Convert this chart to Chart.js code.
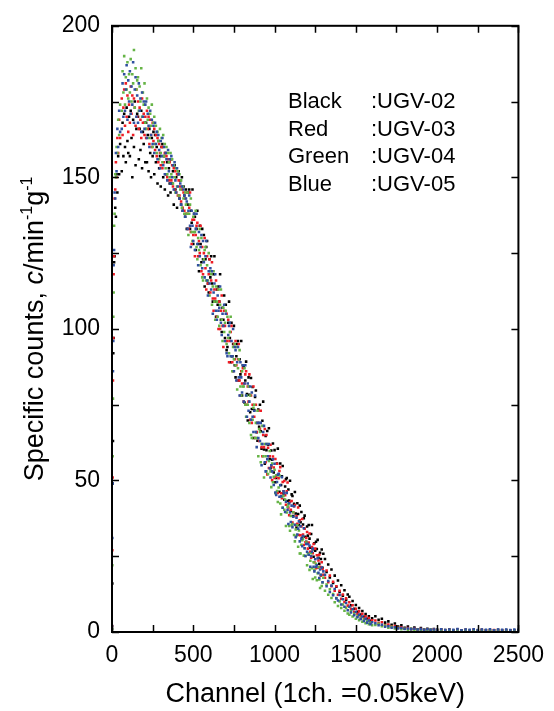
<!DOCTYPE html>
<html>
<head>
<meta charset="utf-8">
<script src="https://cdn.jsdelivr.net/npm/chart.js@4.4.1/dist/chart.umd.min.js"></script>
<style>
  html, body { margin: 0; padding: 0; background: #fff; }
  #wrap { width: 554px; height: 711px; }
</style>
</head>
<body>
<div id="wrap"><canvas id="chart" width="554" height="711"></canvas></div>
<script>
// channel numbers (x), shared by all four spectra
const channels = [
  0, 2, 4, 6, 8, 10, 13, 16, 20, 24, 28, 33, 38, 44, 50,
  60, 65, 70, 75, 80, 85, 90, 95, 100, 105,
  110, 115, 120, 125, 130, 135, 140, 145, 150, 155,
  160, 165, 170, 175, 180, 185, 190, 195, 200, 205,
  210, 215, 220, 225, 230, 235, 240, 245, 250, 255,
  260, 265, 270, 275, 280, 285, 290, 295, 300, 305,
  310, 315, 320, 325, 330, 335, 340, 345, 350, 355,
  360, 365, 370, 375, 380, 385, 390, 395, 400, 405,
  410, 415, 420, 425, 430, 435, 440, 445, 450, 455,
  460, 465, 470, 475, 480, 485, 490, 495, 500, 505,
  510, 515, 520, 525, 530, 535, 540, 545, 550, 555,
  560, 565, 570, 575, 580, 585, 590, 595, 600, 605,
  610, 615, 620, 625, 630, 635, 640, 645, 650, 655,
  660, 665, 670, 675, 680, 685, 690, 695, 700, 705,
  710, 715, 720, 725, 730, 735, 740, 745, 750, 755,
  760, 765, 770, 775, 780, 785, 790, 795, 800, 805,
  810, 815, 820, 825, 830, 835, 840, 845, 850, 855,
  860, 865, 870, 875, 880, 885, 890, 895, 900, 905,
  910, 915, 920, 925, 930, 935, 940, 945, 950, 955,
  960, 965, 970, 975, 980, 985, 990, 995, 1000, 1005,
  1010, 1015, 1020, 1025, 1030, 1035, 1040, 1045, 1050, 1055,
  1060, 1065, 1070, 1075, 1080, 1085, 1090, 1095, 1100, 1105,
  1110, 1115, 1120, 1125, 1130, 1135, 1140, 1145, 1150, 1155,
  1160, 1165, 1170, 1175, 1180, 1185, 1190, 1195, 1200, 1205,
  1210, 1215, 1220, 1225, 1230, 1235, 1240, 1245, 1250, 1255,
  1260, 1265, 1270, 1275, 1280, 1285, 1290, 1295, 1300,
  1310, 1320, 1330, 1340, 1350,
  1360, 1370, 1380, 1390, 1400, 1410, 1420, 1430, 1440, 1450,
  1460, 1470, 1480, 1490, 1500, 1510, 1520, 1530, 1540, 1550,
  1560, 1570, 1580, 1590, 1600,
  1620, 1640, 1660, 1680, 1700, 1720, 1740, 1760, 1780, 1800,
  1820, 1840, 1860, 1880, 1900, 1920, 1940, 1960, 1980, 2000,
  2025, 2050, 2075, 2100, 2125, 2150, 2175, 2200, 2225, 2250,
  2275, 2300, 2325, 2350, 2375, 2400, 2425, 2450, 2475, 2500
];

// specific counts, c/min^-1 g^-1
const ugv02 = [ // black
  1, 16, 49, 63, 92, 97, 122, 124, 140, 137, 151, 145, 157, 151, 161,
  152, 168, 157, 171, 160, 155, 173, 162, 158, 170,
  157, 172, 163, 150, 169, 160, 175, 154, 166, 171,
  170, 156, 166, 159, 172, 153, 165, 161, 168, 155,
  168, 155, 164, 152, 166, 158, 150, 163, 157, 165,
  151, 164, 155, 160, 148, 162, 153, 157, 147, 160,
  161, 150, 157, 146, 158, 151, 155, 144, 153, 148,
  145, 156, 148, 152, 141, 154, 146, 150, 140, 151,
  152, 143, 149, 141, 150, 139, 147, 144, 137, 146,
  133, 141, 145, 146, 133, 139, 135, 146, 128, 138,
  137, 126, 133, 139, 128, 119, 134, 128, 122, 133,
  123, 131, 114, 123, 127, 129, 115, 112, 123, 117,
  124, 115, 109, 118, 124, 109, 104, 113, 108, 114,
  109, 118, 103, 99, 107, 103, 111, 97, 108, 93,
  94, 102, 109, 97, 89, 102, 91, 95, 101, 88,
  84, 91, 95, 96, 83, 90, 85, 96, 78, 88,
  87.5, 75.7, 83, 89.2, 78.5, 69.8, 84, 78.3, 72.5, 83.8,
  73.6, 80.8, 64, 73.2, 77.5, 79.7, 65.9, 63.1, 73.4, 67.7,
  75, 66.2, 60.5, 69.7, 76, 60.2, 55.5, 64.7, 60, 66.3,
  61.8, 67.2, 57.1, 54, 59.9, 56.8, 62.2, 52.6, 60, 49.4,
  50.8, 55.6, 60.5, 51.9, 46.3, 55.6, 48.5, 51.4, 54.8, 45.7,
  43.6, 48, 50.4, 50.8, 43.2, 47, 43.4, 49.9, 39.9, 45.4,
  44.9, 38.3, 42.3, 46.2, 39.1, 34.5, 42.5, 38.9, 35.3, 41.7,
  36.2, 39.6, 31.1, 35.5, 37.5, 38.4, 31.4, 29.8, 34.8, 31.8,
  35.3, 30.8, 27.8, 32.3, 35.3, 27.3, 24.8, 29.3, 26.8, 29.8,
  27.4, 30.4, 24.5, 22.5, 26.1, 24.1, 27.2, 21.2, 25.8,
  24.1, 19.8, 22.3, 18, 20.6,
  16.2, 18.6, 14.9, 17, 13.2, 15.4, 12, 13.8, 10.6, 12.4,
  11.6, 8.8, 10.2, 7.7, 8.9, 6.7, 7.9, 5.8, 6.9, 5,
  5.9, 4.4, 5.2, 3.7, 4.5,
  5.2, 4.0, 4.4, 3.1, 3.5, 2.4, 2.8, 1.8, 2.2, 1.4,
  1.8, 1.1, 1.5, 0.9, 1.3, 0.8, 1.1, 0.7, 1.0, 0.7,
  0.9, 0.65, 0.85, 0.6, 0.8, 0.55, 0.75, 0.6, 0.7, 0.5,
  0.75, 0.55, 0.65, 0.6, 0.7, 0.5, 0.65, 0.55, 0.6, 0.5
];
const ugv03 = [ // red
  2, 27, 51, 83, 97, 118, 124, 143, 146, 155, 150, 163, 158, 169, 163,
  176, 164, 173, 179, 167, 181, 170, 177, 165, 174,
  168, 180, 171, 177, 164, 176, 173, 167, 179, 170,
  175, 166, 173, 169, 163, 176, 168, 171, 164, 170,
  163, 172, 166, 170, 161, 169, 164, 160, 168, 162,
  166, 159, 164, 157, 163, 155, 161, 158, 154, 160,
  153, 160, 155, 158, 151, 157, 150, 156, 149, 155,
  156, 149, 154, 147, 153, 146, 152, 145, 151, 144,
  149, 144, 147, 142, 146, 140, 145, 139, 143, 138,
  145, 138, 133, 140, 145, 132, 128, 136, 131, 136,
  124, 131, 134, 135, 124, 129, 125, 134, 119, 127,
  118, 125, 130, 120, 113, 124, 115, 118, 123, 112,
  116, 122, 110, 106, 113, 110, 116, 104, 113, 100,
  109, 100, 106, 111, 101, 94, 106, 101, 96, 105,
  96, 103, 89, 96, 99, 101, 89, 86, 95, 90,
  96, 88, 83, 90, 95, 83, 78, 86, 82, 87,
  76, 82, 85, 86, 75, 81, 76, 85, 70, 78,
  69, 75, 81, 71, 64, 75, 66, 69, 73, 63,
  67, 73, 61, 58, 65, 61, 67, 56, 65, 52,
  60.8, 54.1, 58, 61.8, 54.7, 50.1, 57.9, 54.3, 50.8, 57.1,
  51.2, 55.5, 45.9, 50.7, 53.1, 54.4, 45.8, 44.1, 49.5, 46.4,
  49.8, 45.1, 42, 46.4, 49.3, 41.1, 38.5, 42.9, 40.3, 43.2,
  36.1, 39.5, 41.5, 41.9, 35.3, 38.2, 35.7, 41.1, 32, 36.9,
  31.9, 34.8, 37.3, 32.2, 28.7, 34.1, 29.6, 31, 33, 27.5,
  29.5, 32.5, 26.5, 24.5, 28, 26, 29, 23, 27.5, 21,
  25.3, 21.2, 23.6, 25.5, 21.5, 18.6, 23, 20.9, 18.9,
  17.9, 20.3, 16.4, 18.6, 15.1,
  16.6, 13.6, 15.1, 12.3, 13.6, 11, 12.4, 9.9, 11.1, 8.7,
  9.8, 7.7, 8.8, 6.7, 7.7, 6, 6.8, 5.2, 6, 4.5,
  5.2, 3.8, 4.6, 3.3, 3.9,
  3.8, 3.0, 3.2, 2.3, 2.5, 1.8, 2.0, 1.4, 1.6, 1.1,
  1.3, 0.9, 1.1, 0.75, 0.95, 0.7, 0.85, 0.6, 0.8, 0.6,
  0.75, 0.6, 0.7, 0.5, 0.75, 0.6, 0.65, 0.55, 0.7, 0.5,
  0.65, 0.6, 0.55, 0.65, 0.5, 0.6, 0.55, 0.6, 0.5, 0.55
];
const ugv04 = [ // green
  1, 22, 58, 77, 104, 112, 134, 138, 151, 150, 160, 158, 169, 164, 174,
  172, 185, 178, 190, 174, 183, 179, 188, 176, 184,
  178, 189, 175, 184, 181, 192, 173, 186, 179, 182,
  183, 172, 180, 175, 186, 170, 178, 174, 181, 168,
  166, 176, 169, 173, 163, 171, 167, 174, 160, 168,
  170, 161, 167, 158, 165, 162, 156, 166, 158, 163,
  155, 164, 157, 161, 153, 160, 151, 158, 155, 150,
  158, 151, 156, 148, 154, 150, 145, 153, 147, 152,
  144, 151, 146, 149, 140, 147, 143, 138, 145, 141,
  138, 145, 131, 138, 141, 143, 132, 129, 137, 132,
  132, 139, 127, 123, 130, 126, 133, 121, 130, 117,
  116, 123, 126, 127, 116, 121, 116, 125, 111, 119,
  118, 108, 114, 119, 109, 103, 114, 109, 104, 113,
  101, 108, 113, 103, 96, 107, 99, 102, 106, 95,
  104, 97, 92, 99, 104, 91, 86, 94, 90, 95,
  88, 94, 80, 87, 90, 93, 81, 78, 86, 81,
  81, 87, 75, 71, 78, 75, 81, 69, 78, 65,
  64, 70, 74, 75, 64, 69, 64, 73, 58, 67,
  66, 56, 62, 68, 58, 51, 62, 58, 53, 62,
  52.1, 56.4, 59.7, 53, 47.8, 55.6, 49.4, 51.2, 53.5, 45.8,
  51.7, 46.5, 42.9, 47.7, 51.6, 42.4, 38.8, 44.6, 41, 44.9,
  40.3, 43.6, 35, 39.4, 41.3, 42.1, 35, 33.4, 38.3, 35.2,
  35.6, 39.5, 32, 29.9, 33.8, 31.7, 35.2, 28.1, 33.5, 25.9,
  25.9, 28.8, 30.3, 30.7, 25.2, 27.6, 25.1, 29.5, 22, 26,
  25.5, 20.5, 23.5, 26, 21, 17.5, 23, 20.5, 18, 22.5,
  17.1, 19.4, 21.4, 17.3, 14.5, 18.8, 15.2, 16.3, 17.9,
  13.6, 15.7, 12.3, 14.1, 11.2,
  12.5, 9.8, 11.2, 8.6, 10.1, 7.9, 9.1, 7, 8, 6.1,
  5.7, 6.8, 5.1, 6, 4.4, 5.3, 3.9, 4.7, 3.4, 4.1,
  2.9, 3.6, 2.6, 3.1, 2.2,
  2.3, 2.7, 1.9, 2.1, 1.4, 1.7, 1.15, 1.35, 0.9, 1.1,
  0.75, 0.95, 0.65, 0.85, 0.6, 0.75, 0.55, 0.7, 0.5, 0.65,
  0.6, 0.45, 0.65, 0.5, 0.6, 0.4, 0.55, 0.6, 0.45, 0.55,
  0.5, 0.6, 0.4, 0.55, 0.5, 0.45, 0.6, 0.4, 0.5, 0.55
];
const ugv05 = [ // blue
  2, 31, 49, 86, 96, 121, 126, 145, 143, 158, 152, 166, 160, 172, 165,
  166, 181, 170, 184, 172, 179, 187, 169, 182, 175,
  185, 171, 180, 174, 188, 168, 179, 183, 170, 177,
  168, 181, 172, 176, 165, 178, 170, 175, 166, 174,
  175, 163, 171, 167, 160, 172, 164, 169, 161, 167,
  158, 168, 161, 165, 156, 164, 159, 153, 162, 157,
  163, 154, 160, 151, 158, 156, 149, 159, 152, 156,
  148, 157, 150, 154, 146, 155, 149, 145, 153, 147,
  151, 143, 148, 141, 147, 139, 146, 144, 137, 143,
  142, 133, 139, 144, 134, 127, 139, 134, 129, 138,
  126, 133, 138, 128, 121, 132, 124, 127, 131, 120,
  129, 122, 117, 124, 129, 116, 111, 119, 115, 120,
  113, 119, 105, 112, 115, 118, 106, 103, 111, 106,
  107, 114, 102, 98, 105, 101, 108, 96, 105, 92,
  91, 98, 101, 102, 91, 96, 91, 100, 86, 94,
  93, 83, 89, 94, 84, 78, 89, 84, 79, 88,
  76, 82, 88, 78, 71, 82, 73, 76, 81, 70,
  79, 71, 66, 73, 78, 66, 61, 69, 64, 69,
  63, 69, 55, 62, 66, 68, 56, 53, 62, 57,
  58, 62, 54, 51, 55, 53, 57, 48.5, 55.5, 46,
  45.2, 49.5, 51.9, 52.2, 44.6, 48.4, 44.8, 51.1, 41, 46.4,
  45.8, 39.6, 43, 45.9, 40.3, 35.6, 42.5, 39.4, 36.3, 41.7,
  34.6, 38, 41.5, 35.4, 31.3, 37.7, 32.2, 34.1, 36.5, 29.9,
  34.9, 30.8, 28.3, 31.7, 34.2, 27.6, 25.1, 29, 26.5, 29,
  25.5, 28.5, 21.5, 25, 26.5, 27.5, 21.5, 20, 24, 21.5,
  22, 24.3, 19.5, 17.8, 20.6, 18.9, 21.3, 16.4, 20,
  18.9, 15.1, 16.8, 13.2, 15.3,
  12.1, 14.2, 11.1, 10.4, 12.2, 9.1, 10.8, 8.3, 9.6, 7.2,
  8.3, 6.4, 7.5, 5.5, 6.6, 4.9, 5.7, 4.3, 5.1, 3.6,
  4.4, 3.1, 3.8, 2.6, 3.2,
  2.9, 2.2, 2.4, 1.7, 1.9, 1.4, 1.6, 1.2, 1.35, 1.0,
  1.15, 0.9, 1.05, 0.8, 0.95, 0.75, 0.9, 0.7, 0.85, 0.7,
  0.9, 0.65, 0.85, 0.7, 0.95, 0.6, 0.8, 0.75, 0.9, 0.65,
  0.85, 0.7, 0.9, 0.6, 0.8, 0.75, 0.85, 0.65, 0.8, 0.7
];

const colourNames = ["Black", "Red", "Green", "Blue"];
const sampleNames = [":UGV-02", ":UGV-03", ":UGV-04", ":UGV-05"];
const xTickMarks = [0, 250, 500, 750, 1000, 1250, 1500, 1750, 2000, 2250, 2500];
const yTickMarks = [0, 25, 50, 75, 100, 125, 150, 175, 200];

const FONT = "'Liberation Sans', Arial, sans-serif";
const toPoints = (ys) => ys.map((y, i) => ({ x: channels[i], y: y }));
const dotStyle = (colour) => ({
    backgroundColor: colour,
    borderColor: colour,
    borderWidth: 0,
    pointStyle: "rect",
    pointRadius: 1.8,
    pointHoverRadius: 1.8,
    showLine: false,
});

const framePlugin = {
    id: "frame",
    afterDraw(chart) {
        const { ctx, chartArea: a, scales } = chart;
        const x = scales.x;
        const y = scales.y;
        ctx.save();

        // box + inward ticks on all sides
        ctx.strokeStyle = "#000";
        ctx.lineWidth = 1.5;
        ctx.beginPath();
        xTickMarks.forEach((v) => {
            const px = Math.round(x.getPixelForValue(v)) + 0.5;
            ctx.moveTo(px, a.bottom);
            ctx.lineTo(px, a.bottom - 7);
            ctx.moveTo(px, a.top);
            ctx.lineTo(px, a.top + 7);
        });
        yTickMarks.forEach((v) => {
            const py = Math.round(y.getPixelForValue(v)) + 0.5;
            ctx.moveTo(a.left, py);
            ctx.lineTo(a.left + 7, py);
            ctx.moveTo(a.right, py);
            ctx.lineTo(a.right - 7, py);
        });
        ctx.stroke();
        ctx.lineWidth = 2;
        ctx.strokeRect(a.left, a.top, a.right - a.left, a.bottom - a.top);

        ctx.fillStyle = "#000";

        // x title
        ctx.font = `27px ${FONT}`;
        ctx.textAlign = "center";
        ctx.textBaseline = "alphabetic";
        ctx.fillText("Channel (1ch. =0.05keV)", (a.left + a.right) / 2, 702);

        // y title with superscripts
        const big = `27px ${FONT}`;
        const ital = `italic 27px ${FONT}`;
        const small = `16px ${FONT}`;
        const parts = [
            { t: "Specific counts, ", f: big, dy: 0 },
            { t: "c", f: ital, dy: 0 },
            { t: "/min", f: big, dy: 0 },
            { t: "-1", f: small, dy: -11 },
            { t: "g", f: big, dy: 0 },
            { t: "-1", f: small, dy: -11 },
        ];
        let total = 0;
        parts.forEach((p) => {
            ctx.font = p.f;
            p.w = ctx.measureText(p.t).width;
            total += p.w;
        });
        ctx.translate(43, (a.top + a.bottom) / 2);
        ctx.rotate(-Math.PI / 2);
        ctx.textAlign = "left";
        let u = -total / 2;
        parts.forEach((p) => {
            ctx.font = p.f;
            ctx.fillText(p.t, u, p.dy);
            u += p.w;
        });
        ctx.setTransform(1, 0, 0, 1, 0, 0);

        // key
        ctx.font = `22px ${FONT}`;
        ctx.textAlign = "left";
        ctx.textBaseline = "middle";
        colourNames.forEach((name, i) => {
            const rowY = 102 + i * 27.7;
            ctx.fillText(name, 288, rowY);
            ctx.fillText(sampleNames[i], 371, rowY);
        });
        ctx.restore();
    },
};

const chart = new Chart(document.getElementById("chart").getContext("2d"), {
    type: "scatter",
    data: {
        datasets: [
            { label: "UGV-05", data: toPoints(ugv05), ...dotStyle("#2f4f9f") },
            { label: "UGV-04", data: toPoints(ugv04), ...dotStyle("#66b446") },
            { label: "UGV-03", data: toPoints(ugv03), ...dotStyle("#ee1c24") },
            { label: "UGV-02", data: toPoints(ugv02), ...dotStyle("#000000") },
        ],
    },
    options: {
        responsive: false,
        animation: false,
        devicePixelRatio: 1,
        layout: { padding: { top: 21, right: 34, left: 0, bottom: 0 } },
        plugins: {
            legend: { display: false },
            tooltip: { enabled: false },
        },
        scales: {
            x: {
                type: "linear",
                min: 0,
                max: 2500,
                ticks: {
                    stepSize: 500,
                    padding: 10,
                    maxRotation: 0,
                    color: "#000",
                    font: { family: FONT, size: 23 },
                    callback: (v) => String(v),
                },
                grid: { display: false, drawTicks: false },
                border: { display: false },
                afterFit: (s) => { s.height = 79; },
            },
            y: {
                type: "linear",
                min: 0,
                max: 200,
                ticks: {
                    stepSize: 50,
                    padding: 12,
                    color: "#000",
                    font: { family: FONT, size: 23 },
                    callback: (v) => String(v),
                },
                grid: { display: false, drawTicks: false },
                border: { display: false },
                afterFit: (s) => { s.width = 112; },
            },
        },
    },
    plugins: [framePlugin],
});
</script>
</body>
</html>
